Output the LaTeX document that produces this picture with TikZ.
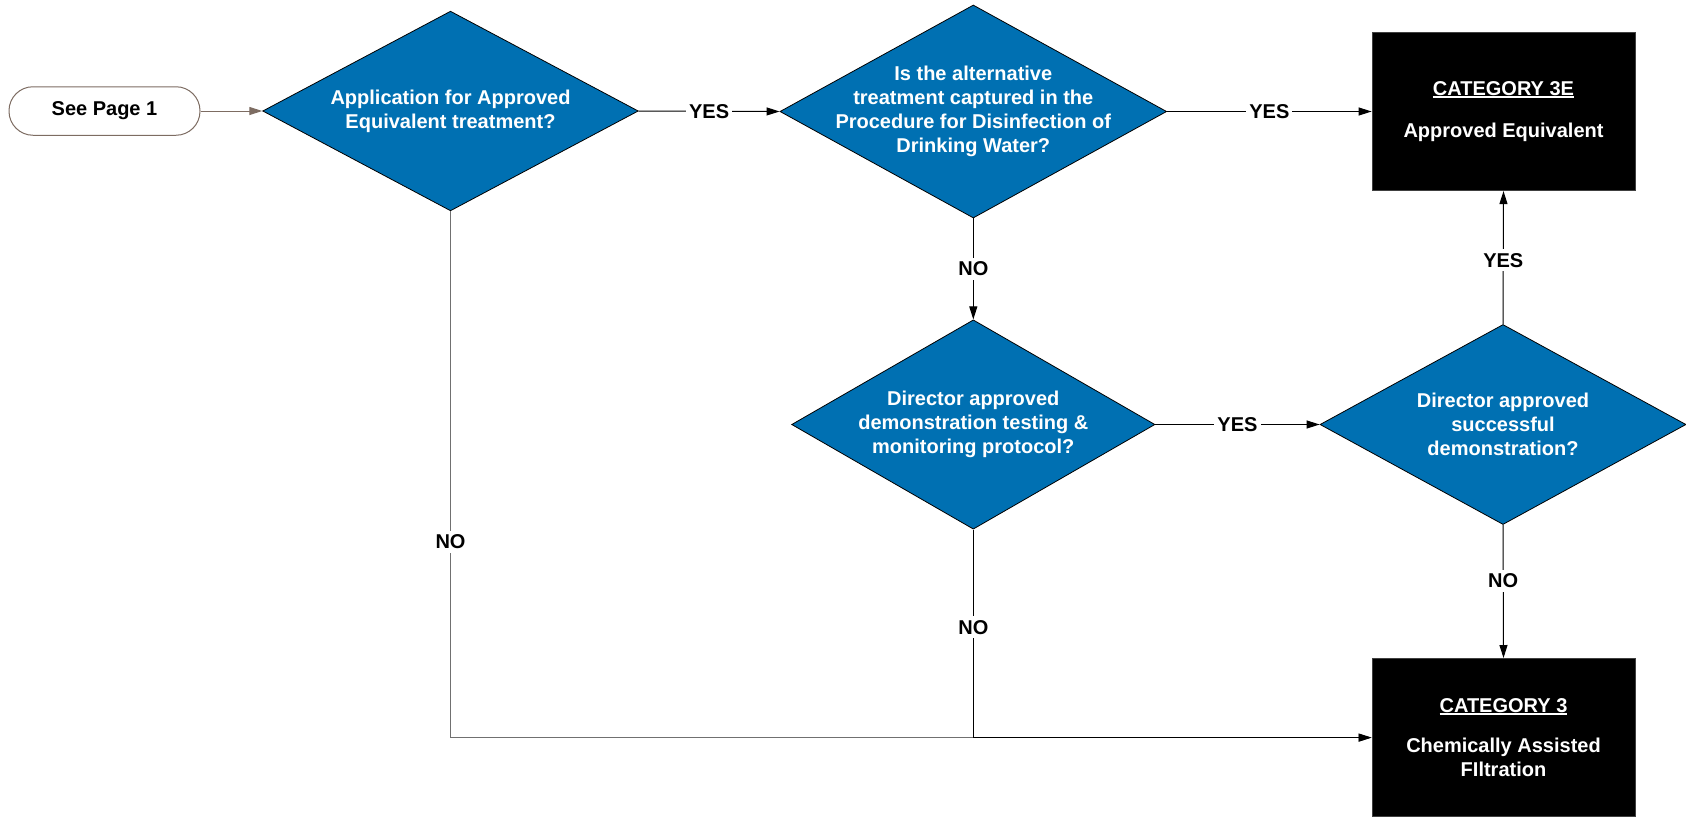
\documentclass[tikz,border=0pt]{standalone}
\usepackage{fontspec}
\setmainfont{Liberation Sans}
\usetikzlibrary{shapes.geometric,arrows.meta}
\definecolor{qblue}{RGB}{0,112,178}
\definecolor{termline}{RGB}{125,108,98}
\definecolor{noline}{RGB}{112,112,112}
% underlined heading inside the outcome boxes
\newcommand\ulcat[1]{\setbox0\hbox{#1}\rlap{\rule[-3pt]{\wd0}{2pt}}\box0}
\begin{document}
\begin{tikzpicture}[x=1pt,y=-1pt,
  every node/.style={font=\fontsize{20}{24}\selectfont\bfseries},
  terminal/.style={rectangle, rounded corners=24pt, draw=termline, line width=1pt,
    minimum width=191pt, minimum height=48.5pt, inner sep=0pt},
  question/.style={diamond, draw=black, line width=0.8pt, fill=qblue, inner sep=0pt},
  qtext/.style={text=white, align=center, inner sep=0pt},
  outcome/.style={rectangle, fill=black, draw=black!75, line width=0.8pt, inner sep=0pt,
    minimum width=263pt, minimum height=158.4pt, text=white, align=center},
  flow/.style={line width=1pt, -{Triangle[length=13pt,width=8pt]}},
  lbl/.style={fill=white, inner xsep=3pt, inner ysep=4pt}]
\useasboundingbox (0,0) rectangle (1686,817);

% start terminal
\node[terminal] (start) at (104.5,111) {See Page 1};

% decision diamonds
\node[question, minimum width=375.6pt, minimum height=199.7pt] (q1) at (450.5,111) {};
\node[qtext] (t1) at (q1) {Application for Approved\\Equivalent treatment?};

\node[question, minimum width=386.7pt, minimum height=213pt] (q2) at (973.3,111.5) {};
\node[qtext] (t2) at (q2) {Is the alternative\\treatment captured in the\\Procedure for Disinfection of\\Drinking Water?};

\node[question, minimum width=363.3pt, minimum height=209.3pt] (q3) at (973.3,424.5) {};
\node[qtext] (t3) at (q3) {Director approved\\demonstration testing \&\\monitoring protocol?};

\node[question, minimum width=366pt, minimum height=200pt] (q4) at (1503,424.5) {};
\node[qtext] (t4) at (q4) {Director approved\\successful\\demonstration?};

% outcomes
\node[outcome] (c3e) at (1503.5,111.5) {\ulcat{CATEGORY 3E}\\[18pt]Approved Equivalent};
\node[outcome] (c3) at (1503.5,737.6) {\ulcat{CATEGORY 3}\\[16pt]Chemically Assisted\\FIltration};

% connectors
\draw[flow, termline] (start.east) -- (q1.west);
\draw[flow] (q1.east) -- node[lbl] {YES} (q2.west);
\draw[flow] (q2.east) -- node[lbl] {YES} (c3e.west);
\draw[flow] (q2.south) -- node[lbl] {NO} (q3.north);
\draw[flow] (q3.east) -- node[lbl] {YES} (q4.west);
\draw[flow] (q4.north) -- node[lbl, pos=0.48] {YES} (c3e.south);
\draw[flow] (q4.south) -- node[lbl, pos=0.42] {NO} (c3.north);
\draw[flow, noline] (q1.south) |- node[lbl, pos=0.314, text=black] {NO} (c3.west);
\draw[flow] (q3.south) |- node[lbl, pos=0.235] {NO} (c3.west);
\end{tikzpicture}
\end{document}
